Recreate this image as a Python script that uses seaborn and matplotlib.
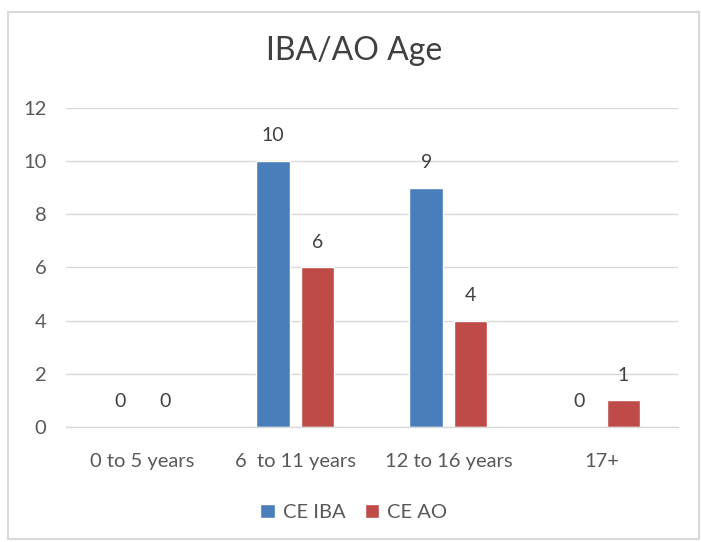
import matplotlib
matplotlib.use("Agg")
import matplotlib.pyplot as plt
import seaborn as sns
import pandas as pd
from matplotlib.patches import Rectangle

categories = ["0 to 5 years", "6  to 11 years", "12 to 16 years", "17+"]
ce_iba = [0, 10, 9, 0]
ce_ao = [0, 6, 4, 1]
series_names = ["CE IBA", "CE AO"]

df = pd.DataFrame({
    "cat": categories * 2,
    "val": ce_iba + ce_ao,
    "series": [series_names[0]] * 4 + [series_names[1]] * 4,
})

sns.set_theme(style="white")
plt.rcParams["font.family"] = ["Lato", "DejaVu Sans"]

fig = plt.figure(figsize=(7.01, 5.42), dpi=100)
ax = fig.add_axes([0.094, 0.212, 0.873, 0.589])

palette = {"CE IBA": "#4A7EBB", "CE AO": "#BE4B48"}
sns.barplot(data=df, x="cat", y="val", hue="series", order=categories,
            hue_order=series_names, palette=palette, width=0.58, gap=0.24,
            saturation=1, ax=ax, legend=True)

for c in ax.containers:
    ax.bar_label(c, fmt="%d", padding=12, color="#404040", fontsize=14)

ax.set_ylim(0, 12)
ax.set_yticks(range(0, 13, 2))
ax.yaxis.grid(True, color="#D9D9D9", linewidth=1)
ax.set_axisbelow(True)
for s in ["left", "right", "top"]:
    ax.spines[s].set_visible(False)
ax.spines["bottom"].set_color("#D9D9D9")
ax.spines["bottom"].set_linewidth(1)
ax.tick_params(axis="both", length=0, colors="#595959", labelsize=14.5)
ax.tick_params(axis="x", pad=19)
ax.tick_params(axis="y", pad=14)
ax.set_xlabel("")
ax.set_ylabel("")

fig.text(0.505, 0.905, "IBA/AO Age", ha="center", va="center", fontsize=23, color="#404040")

handles, labels = ax.get_legend_handles_labels()
ax.legend_.remove()
fig.legend(handles, labels, loc="center", bbox_to_anchor=(0.505, 0.055), ncol=2,
           frameon=False, fontsize=14.5, handlelength=0.7, handleheight=0.7,
           columnspacing=1.0, handletextpad=0.4, labelcolor="#595959")

fig.patches.append(Rectangle((0.012, 0.005), 0.985, 0.972, transform=fig.transFigure,
                             fill=False, edgecolor="#D9D9D9", linewidth=1.5))

fig.savefig("out.png", dpi=100)
